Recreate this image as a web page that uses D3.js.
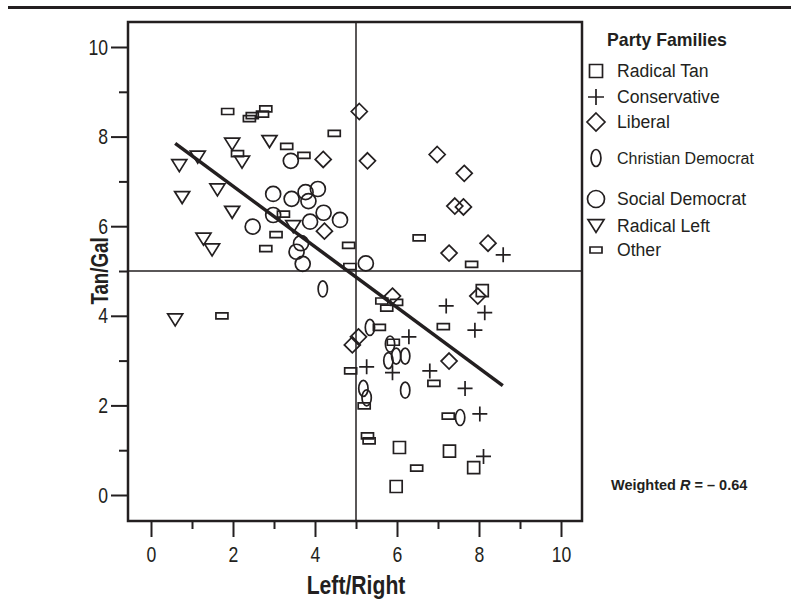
<!DOCTYPE html>
<html>
<head>
<meta charset="utf-8">
<script src="https://cdn.jsdelivr.net/npm/d3@7"></script>
<style>
  body { margin: 0; background: #fff; }
  svg text { fill: #231f20; }
</style>
</head>
<body>
<div id="chart"></div>
<script>
// party positions, [left/right, tan/gal]
var radicalTan = [[8.08,4.56],[6.06,1.06],[7.28,0.98],[7.87,0.61],[5.98,0.19]];
var conservative = [[8.59,5.36],[7.20,4.22],[8.14,4.07],[7.90,3.68],[6.29,3.53],[5.26,2.86],
  [5.89,2.73],[6.80,2.77],[7.66,2.38],[8.02,1.81],[8.11,0.86]];
var liberal = [[5.08,8.56],[5.28,7.46],[6.98,7.60],[7.64,7.18],[7.41,6.45],[7.62,6.43],[8.22,5.62],
  [7.27,5.40],[4.20,7.49],[4.23,5.89],[5.89,4.44],[7.97,4.44],[5.06,3.53],[4.91,3.35],[7.27,2.99]];
var christianDem = [[4.19,4.60],[5.34,3.74],[5.83,3.37],[5.98,3.10],[6.20,3.10],[5.79,3.00],
  [5.18,2.38],[5.26,2.17],[6.20,2.34],[7.54,1.73]];
var socialDem = [[3.41,7.46],[2.98,6.72],[3.43,6.61],[3.77,6.76],[4.07,6.83],[3.84,6.56],[4.21,6.30],
  [2.98,6.25],[3.88,6.10],[4.61,6.14],[2.48,5.99],[3.66,5.62],[3.55,5.43],[3.70,5.16],[5.24,5.17]];
var radicalLeft = [[1.98,7.83],[2.89,7.89],[1.14,7.54],[0.69,7.35],[2.22,7.43],[1.62,6.81],[0.76,6.64],
  [1.98,6.31],[3.47,5.99],[1.28,5.71],[1.49,5.47],[0.59,3.91]];
var other = [[1.87,8.56],[2.40,8.40],[2.47,8.47],[2.72,8.50],[2.80,8.62],[4.47,8.07],[3.31,7.78],
  [3.73,7.58],[2.11,7.62],[3.23,6.27],[3.05,5.81],[2.80,5.50],[4.82,5.57],[4.85,5.10],[6.54,5.74],
  [7.82,5.15],[5.63,4.33],[5.99,4.30],[5.75,4.17],[5.57,3.74],[7.13,3.76],[5.91,3.41],[4.87,2.77],
  [6.90,2.49],[1.73,4.00],[5.28,1.32],[5.32,1.21],[6.48,0.60],[7.25,1.76],[5.20,1.99]];

var fitX = [0.59, 8.58];
var fitY = [7.85, 2.44];

var majorTicks = [0, 2, 4, 6, 8, 10];
var minorTicks = [1, 3, 5, 7, 9];

var families = ['Radical Tan', 'Conservative', 'Liberal', 'Christian Democrat',
  'Social Democrat', 'Radical Left', 'Other'];

// custom marker shapes, s = nominal width in px
var kappa = 0.5523;
var shapes = {
  'Radical Tan': { draw: function (c, s) { c.rect(-s/2, -s/2, s, s); } },
  'Conservative': { draw: function (c, s) {
    c.moveTo(-s/2, 0); c.lineTo(s/2, 0); c.moveTo(0, -s/2); c.lineTo(0, s/2); } },
  'Liberal': { draw: function (c, s) {
    c.moveTo(0, -s/2); c.lineTo(s/2, 0); c.lineTo(0, s/2); c.lineTo(-s/2, 0); c.closePath(); } },
  'Christian Democrat': { draw: function (c, s) {
    var rx = s * 0.29, ry = s / 2;
    c.moveTo(0, -ry);
    c.bezierCurveTo(rx*kappa, -ry, rx, -ry*kappa, rx, 0);
    c.bezierCurveTo(rx, ry*kappa, rx*kappa, ry, 0, ry);
    c.bezierCurveTo(-rx*kappa, ry, -rx, ry*kappa, -rx, 0);
    c.bezierCurveTo(-rx, -ry*kappa, -rx*kappa, -ry, 0, -ry);
    c.closePath(); } },
  'Social Democrat': { draw: function (c, s) { c.moveTo(s/2, 0); c.arc(0, 0, s/2, 0, 2*Math.PI); } },
  'Radical Left': { draw: function (c, s) {
    var h = s * 0.8;
    c.moveTo(-s/2, -h/2); c.lineTo(s/2, -h/2); c.lineTo(0, h/2); c.closePath(); } },
  'Other': { draw: function (c, s) { c.rect(-s/2, -s/4, s, s/2); } }
};
var plotSize = { 'Radical Tan': 12, 'Conservative': 15, 'Liberal': 16, 'Christian Democrat': 16,
  'Social Democrat': 15, 'Radical Left': 15, 'Other': 12 };
var legendSize = { 'Radical Tan': 13, 'Conservative': 16, 'Liberal': 18, 'Christian Democrat': 17,
  'Social Democrat': 17, 'Radical Left': 16, 'Other': 12 };

var data = [radicalTan, conservative, liberal, christianDem, socialDem, radicalLeft, other];

var width = 791, height = 609;
var frame = { left: 128, right: 582, top: 22, bottom: 521 };
var ink = '#231f20';
var font = '"Liberation Sans", Arial, sans-serif';
var squeeze = 0.8; // the original face is a condensed one

var x = d3.scaleLinear().domain([0, 10]).range([151, 561]);
var y = d3.scaleLinear().domain([0, 10]).range([495, 47]);

var svg = d3.select('#chart').append('svg')
  .attr('width', width)
  .attr('height', height);

// rule on top of figure
svg.append('line')
  .attr('x1', 8).attr('x2', width).attr('y1', 7.5).attr('y2', 7.5)
  .attr('stroke', ink).attr('stroke-width', 3);

// axes
function styleAxis(g) {
  g.select('.domain').remove();
  g.selectAll('.tick line').attr('stroke', ink).attr('stroke-width', 2);
  g.selectAll('.tick text').attr('fill', ink)
    .style('font-family', font).style('font-size', '22px')
    .attr('x', function () { return (+d3.select(this).attr('x') || 0) / squeeze; })
    .attr('transform', 'scale(' + squeeze + ',1)');
}

svg.append('g')
  .attr('transform', 'translate(0,' + frame.bottom + ')')
  .call(d3.axisBottom(x).tickValues(majorTicks).tickSize(16).tickPadding(9).tickFormat(d3.format('d')))
  .call(styleAxis);
svg.append('g')
  .attr('transform', 'translate(0,' + frame.bottom + ')')
  .call(d3.axisBottom(x).tickValues(minorTicks).tickSize(8).tickFormat(''))
  .call(styleAxis);
svg.append('g')
  .attr('transform', 'translate(' + frame.left + ',0)')
  .call(d3.axisLeft(y).tickValues(majorTicks).tickSize(17).tickPadding(3).tickFormat(d3.format('d')))
  .call(styleAxis);
svg.append('g')
  .attr('transform', 'translate(' + frame.left + ',0)')
  .call(d3.axisLeft(y).tickValues(minorTicks).tickSize(9).tickFormat(''))
  .call(styleAxis);

// frame
svg.append('rect')
  .attr('x', frame.left).attr('y', frame.top)
  .attr('width', frame.right - frame.left).attr('height', frame.bottom - frame.top)
  .attr('fill', 'none').attr('stroke', ink).attr('stroke-width', 2.5);

// quadrant lines at the midpoint
svg.append('line')
  .attr('x1', x(5)).attr('x2', x(5)).attr('y1', frame.top).attr('y2', frame.bottom)
  .attr('stroke', ink).attr('stroke-width', 1.5);
svg.append('line')
  .attr('x1', frame.left).attr('x2', frame.right).attr('y1', y(5)).attr('y2', y(5))
  .attr('stroke', ink).attr('stroke-width', 1.5);

// points
var marks = svg.append('g');
data.forEach(function (pts, i) {
  var fam = families[i];
  marks.selectAll('.p' + i)
    .data(pts).enter()
    .append('path')
    .attr('class', 'p' + i)
    .attr('transform', function (d) { return 'translate(' + x(d[0]) + ',' + y(d[1]) + ')'; })
    .attr('d', d3.symbol().type(shapes[fam]).size(plotSize[fam]))
    .attr('fill', 'none')
    .attr('stroke', ink)
    .attr('stroke-width', 1.7);
});

// regression line
svg.append('path')
  .datum(d3.zip(fitX, fitY))
  .attr('d', d3.line().x(function (d) { return x(d[0]); }).y(function (d) { return y(d[1]); }))
  .attr('stroke', ink).attr('stroke-width', 3.5).attr('fill', 'none');

// axis titles
svg.append('text')
  .attr('transform', 'translate(' + x(5) + ',594) scale(0.83,1)')
  .attr('text-anchor', 'middle')
  .style('font-family', font).style('font-weight', 'bold').style('font-size', '25.5px')
  .text('Left/Right');
svg.append('text')
  .attr('transform', 'translate(108,' + y(5) + ') rotate(-90) scale(0.78,1)')
  .attr('text-anchor', 'middle')
  .style('font-family', font).style('font-weight', 'bold').style('font-size', '24px')
  .text('Tan/Gal');

// legend
var legY = [71, 97, 122, 158, 199, 226, 250];
svg.append('text')
  .attr('x', 607).attr('y', 46)
  .style('font-family', font).style('font-weight', 'bold').style('font-size', '17.7px')
  .text('Party Families');
var leg = svg.append('g').selectAll('g')
  .data(families).enter()
  .append('g')
  .attr('transform', function (d, i) { return 'translate(0,' + legY[i] + ')'; });
leg.append('path')
  .attr('transform', 'translate(596,0)')
  .attr('d', function (d) { return d3.symbol().type(shapes[d]).size(legendSize[d])(); })
  .attr('fill', 'none').attr('stroke', ink).attr('stroke-width', 1.7);
leg.append('text')
  .attr('x', 617).attr('dy', '0.36em')
  .style('font-family', font)
  .style('font-size', function (d) { return d === 'Christian Democrat' ? '16px' : '17.6px'; })
  .text(function (d) { return d; });

// weighted correlation note
var note = svg.append('text')
  .attr('x', 611).attr('y', 490)
  .style('font-family', font).style('font-weight', 'bold').style('font-size', '14.5px');
note.append('tspan').text('Weighted ');
note.append('tspan').style('font-style', 'italic').text('R');
note.append('tspan').text(' = \u2013 0.64');
</script>
</body>
</html>
